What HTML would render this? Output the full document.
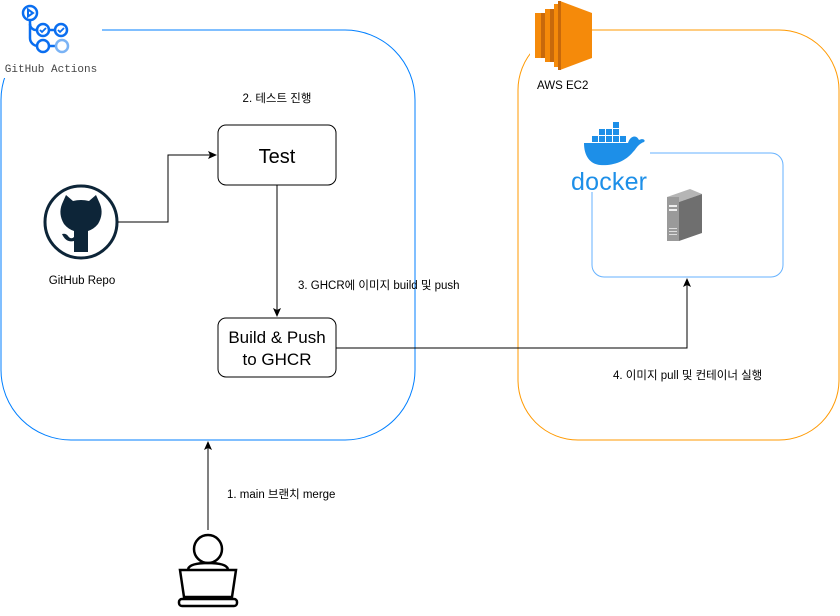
<!DOCTYPE html>
<html><head><meta charset="utf-8"><style>
body{margin:0;background:#fff;width:840px;height:611px;overflow:hidden}
text{font-family:"Liberation Sans","Noto Sans CJK KR",sans-serif}
</style></head><body>
<svg width="840" height="611" viewBox="0 0 840 611" xmlns="http://www.w3.org/2000/svg">
<defs><marker id="a" markerWidth="10" markerHeight="10" refX="8" refY="5" orient="auto" markerUnits="userSpaceOnUse"><path d="M0,1 L9,5 L0,9 L2,5Z" fill="#000"/></marker></defs>
<rect x="1" y="30" width="414" height="410" rx="70" fill="none" stroke="#007FFF" stroke-width="1"/>
<rect x="0" y="0" width="102" height="78" fill="#fff"/>
<g fill="none" stroke="#0a6ef0" stroke-width="2.5">
<circle cx="30" cy="13" r="7"/><path d="M28,9.5 L33,13 L28,16.5Z" fill="none" stroke-width="2"/>
<path d="M30,20 V38 a8,8 0 0 0 8,8 H37"/><path d="M30,24 a6,6 0 0 0 6,6 H37"/>
<circle cx="43" cy="30" r="6"/><circle cx="61" cy="30" r="6"/><path d="M49,30 H55"/>
<circle cx="43" cy="46" r="6"/><path d="M49,46 H55"/><circle cx="62" cy="46" r="6" stroke="#7ab3f5"/>
<path d="M40,30 l2,2 l4,-4 M58,30 l2,2 l4,-4" stroke-width="1.8"/>
</g>
<text x="51" y="72" font-size="11" text-anchor="middle" fill="#444" style="font-family:'Liberation Mono',monospace">GitHub Actions</text>
<rect x="518" y="30" width="321" height="410" rx="60" fill="none" stroke="#FF9900" stroke-width="1"/>
<rect x="530" y="0" width="56" height="70" fill="#fff"/>
<g>
<polygon points="560,1 592,13 592,58 560,70" fill="#f58a0a"/>
<rect x="535" y="13" width="6" height="45" fill="#f58a0a"/>
<rect x="541" y="13" width="4" height="45" fill="#c8690b"/>
<rect x="545" y="9" width="5" height="53" fill="#f58a0a"/>
<rect x="550" y="9" width="4" height="53" fill="#c8690b"/>
<rect x="554" y="4" width="6" height="63" fill="#f58a0a"/>
<rect x="558" y="1" width="3" height="69" fill="#c8690b"/>
</g>
<text x="537" y="89" font-size="11.5" fill="#000">AWS EC2</text>
<rect x="592" y="153" width="191" height="124" rx="12" fill="none" stroke="#66B2FF" stroke-width="1"/>
<rect x="570" y="120" width="80" height="72" fill="#fff"/>
<g fill="#1d8fe8">
<rect x="613" y="122" width="6" height="6"/>
<rect x="599" y="129" width="6" height="6"/><rect x="606" y="129" width="6" height="6"/><rect x="613" y="129" width="6" height="6"/>
<rect x="592" y="136" width="6" height="6"/><rect x="599" y="136" width="6" height="6"/><rect x="606" y="136" width="6" height="6"/><rect x="613" y="136" width="6" height="6"/><rect x="620" y="136" width="6" height="6"/>
<path d="M584,143 H628 C630,136 636,134 639,140 C643,138 646,140 644,142 C638,144 636,149 633,152 C625,162 612,166 600,165 C590,164 584,156 584,143Z"/>
<text x="571" y="190" font-size="25" fill="#1d8fe8" textLength="76">docker</text>
</g>
<g>
<polygon points="667,197 690,189 702,194 679,202" fill="#b5b5b5"/>
<polygon points="679,202 702,194 702,233 679,241" fill="#6f6f6f"/>
<rect x="667" y="197" width="12" height="44" fill="#9a9a9a"/>
<rect x="669" y="205" width="8" height="2" fill="#eee"/><rect x="669" y="209" width="8" height="2" fill="#eee"/>
<rect x="669" y="228" width="8" height="1" fill="#ddd"/><rect x="669" y="231" width="8" height="1" fill="#ddd"/><rect x="669" y="234" width="8" height="1" fill="#ddd"/>
</g>
<circle cx="81" cy="222" r="36" fill="#fff" stroke="#0d2538" stroke-width="3"/>
<path d="M62,204 L66,195 L73,201 Q81,199 89,201 L96,195 L100,204 Q104,214 98,224 Q94,229 88,231 L88,252 L74,252 L74,241 Q66,243 62,234 Q66,233 68,236 Q71,240 74,237 L74,231 Q68,229 64,224 Q58,214 62,204Z" fill="#0d2538"/>
<text x="82" y="284" font-size="11.5" text-anchor="middle" fill="#000">GitHub Repo</text>
<text x="277" y="102" font-size="11.5" text-anchor="middle" fill="#000">2. 테스트 진행</text>
<rect x="218" y="125" width="118" height="60" rx="8" fill="#fff" stroke="#000"/>
<text x="277" y="163" font-size="20" text-anchor="middle" fill="#000">Test</text>
<rect x="218" y="318" width="118" height="59" rx="8" fill="#fff" stroke="#000"/>
<text x="277" y="343" font-size="17" text-anchor="middle" fill="#000">Build &amp; Push</text>
<text x="277" y="365" font-size="17" text-anchor="middle" fill="#000">to GHCR</text>
<path d="M118,222 H168 V155 H216" fill="none" stroke="#000" marker-end="url(#a)"/>
<path d="M277,185 V316" fill="none" stroke="#000" marker-end="url(#a)"/>
<text x="298" y="289" font-size="11.5" fill="#000">3. GHCR에 이미지 build 및 push</text>
<path d="M336,348 H687 V279" fill="none" stroke="#000" marker-end="url(#a)"/>
<text x="613" y="379" font-size="11.5" fill="#000">4. 이미지 pull 및 컨테이너 실행</text>
<path d="M208,530 V442" fill="none" stroke="#000" marker-end="url(#a)"/>
<text x="227" y="498" font-size="11.5" fill="#000">1. main 브랜치 merge</text>
<g fill="none" stroke="#000" stroke-width="2.5">
<circle cx="208" cy="549" r="14"/>
<path d="M188,569 Q190,563 208,563 Q226,563 228,569"/>
<path d="M180,570 H236 L232,597 H184Z"/>
<rect x="179" y="599" width="58" height="7" rx="3"/>
</g>
</svg>
</body></html>
